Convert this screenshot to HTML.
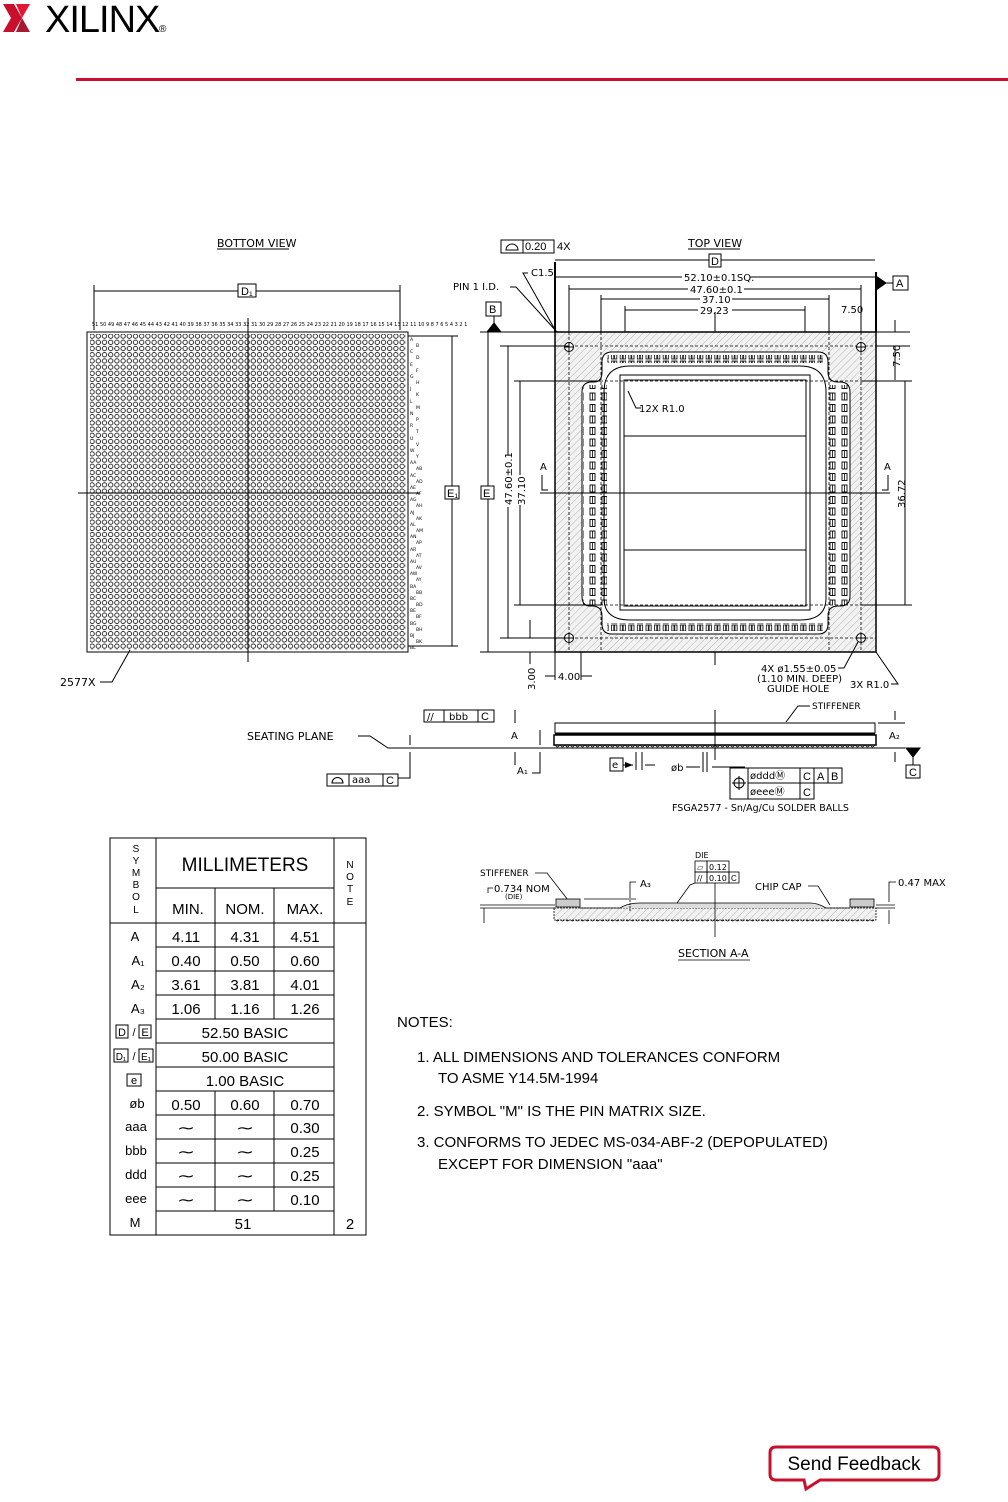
<!DOCTYPE html>
<html><head><meta charset="utf-8"><style>
html,body{margin:0;padding:0;background:#fff}
svg{display:block}
text{font-family:"Liberation Sans",sans-serif;fill:#000}
.s{font-family:"DejaVu Sans","Liberation Sans",sans-serif}
</style></head><body>
<svg width="1008" height="1502" viewBox="0 0 1008 1502" xmlns="http://www.w3.org/2000/svg">
<defs>
<pattern id="balls" x="89" y="333" width="6.2" height="6.2" patternUnits="userSpaceOnUse">
<circle cx="3.1" cy="3.1" r="2.2" fill="none" stroke="#000" stroke-width="0.8"/>
</pattern>
<pattern id="hatch" width="5" height="5" patternUnits="userSpaceOnUse" patternTransform="rotate(45)">
<rect width="5" height="5" fill="#f2f2f2"/><line x1="0" y1="0" x2="0" y2="5" stroke="#999" stroke-width="0.7"/>
</pattern>
<pattern id="pads" width="8.6" height="8" patternUnits="userSpaceOnUse">
<rect x="1" y="1" width="2.2" height="6" fill="none" stroke="#000" stroke-width="0.8"/><rect x="4" y="1" width="2.2" height="6" fill="none" stroke="#000" stroke-width="0.8"/>
</pattern>
<pattern id="padsv" width="12" height="11.5" patternUnits="userSpaceOnUse">
<rect x="2" y="2" width="5" height="7" fill="none" stroke="#000" stroke-width="0.9"/><line x1="4.5" y1="2" x2="4.5" y2="9" stroke="#000" stroke-width="0.8"/>
</pattern>
<pattern id="sball" width="5" height="6" patternUnits="userSpaceOnUse">
<path d="M0.5 0 A2 3 0 0 0 4.5 0" fill="none" stroke="#000" stroke-width="0.7"/>
</pattern>
<marker id="ar" markerWidth="8" markerHeight="6" refX="8" refY="3" orient="auto"><path d="M0 0 L8 3 L0 6" fill="#000"/></marker>
</defs>

<!-- Logo -->
<path d="M3 4 L14 4 L22 18 L14 32 L3 32 L11 18 Z" fill="#c8102e"/>
<path d="M16 4 L30 4 L22 18 Z" fill="#e31837"/>
<path d="M16 32 L30 32 L22 18 Z" fill="#a6192e"/>
<text x="45" y="32" font-size="38" letter-spacing="-1">XILINX</text>
<text x="159" y="32" font-size="10">®</text>
<rect x="76" y="78" width="932" height="3" fill="#c8102e"/>

<!-- BOTTOM VIEW -->
<g stroke="#000" fill="none" stroke-width="1">
<text x="217" y="247" font-size="11" stroke="none" class="s">BOTTOM VIEW</text>
<line x1="217" y1="249" x2="289" y2="249"/>
<line x1="94" y1="291" x2="400" y2="291"/>
<line x1="94" y1="285" x2="94" y2="330"/><line x1="400" y1="285" x2="400" y2="330"/>
<rect x="238" y="284" width="18" height="13" fill="#fff"/>
<text x="241" y="295" font-size="11" stroke="none">D₁</text>
<rect x="87" y="332" width="321" height="320"/>
<rect x="90" y="334" width="316" height="316" fill="url(#balls)" stroke="none"/>
<line x1="78" y1="493" x2="420" y2="493"/>
<line x1="248" y1="318" x2="248" y2="662"/>
<line x1="452" y1="336" x2="452" y2="646"/>
<line x1="408" y1="336" x2="458" y2="336"/><line x1="408" y1="646" x2="458" y2="646"/>
<rect x="445" y="486" width="14" height="13" fill="#fff"/>
<text x="447" y="497" font-size="11" stroke="none">E₁</text>
<text x="60" y="686" font-size="11" stroke="none" class="s">2577X</text>
<path d="M100 682 L112 682 L130 650"/>
</g>
<text x="92" y="326" font-size="5" class="s">51 50 49 48 47 46 45 44 43 42 41 40 39 38 37 36 35 34 33 32 31 30 29 28 27 26 25 24 23 22 21 20 19 18 17 16 15 14 13 12 11 10 9 8 7 6 5 4 3 2 1</text>
<text font-size="4.5" class="s">
<tspan x="410" y="341">A</tspan><tspan x="416" y="347">B</tspan><tspan x="410" y="353">C</tspan><tspan x="416" y="359">D</tspan><tspan x="410" y="366">E</tspan><tspan x="416" y="372">F</tspan><tspan x="410" y="378">G</tspan><tspan x="416" y="384">H</tspan><tspan x="410" y="390">J</tspan><tspan x="416" y="396">K</tspan><tspan x="410" y="403">L</tspan><tspan x="416" y="409">M</tspan><tspan x="410" y="415">N</tspan><tspan x="416" y="421">P</tspan><tspan x="410" y="427">R</tspan><tspan x="416" y="433">T</tspan><tspan x="410" y="440">U</tspan><tspan x="416" y="446">V</tspan><tspan x="410" y="452">W</tspan><tspan x="416" y="458">Y</tspan><tspan x="410" y="464">AA</tspan><tspan x="416" y="470">AB</tspan><tspan x="410" y="477">AC</tspan><tspan x="416" y="483">AD</tspan><tspan x="410" y="489">AE</tspan><tspan x="416" y="495">AF</tspan><tspan x="410" y="501">AG</tspan><tspan x="416" y="507">AH</tspan><tspan x="410" y="514">AJ</tspan><tspan x="416" y="520">AK</tspan><tspan x="410" y="526">AL</tspan><tspan x="416" y="532">AM</tspan><tspan x="410" y="538">AN</tspan><tspan x="416" y="544">AP</tspan><tspan x="410" y="551">AR</tspan><tspan x="416" y="557">AT</tspan><tspan x="410" y="563">AU</tspan><tspan x="416" y="569">AV</tspan><tspan x="410" y="575">AW</tspan><tspan x="416" y="581">AY</tspan><tspan x="410" y="588">BA</tspan><tspan x="416" y="594">BB</tspan><tspan x="410" y="600">BC</tspan><tspan x="416" y="606">BD</tspan><tspan x="410" y="612">BE</tspan><tspan x="416" y="618">BF</tspan><tspan x="410" y="625">BG</tspan><tspan x="416" y="631">BH</tspan><tspan x="410" y="637">BJ</tspan><tspan x="416" y="643">BK</tspan><tspan x="410" y="649">BL</tspan>
</text>

<!-- TOP VIEW -->
<g stroke="#000" fill="none" stroke-width="1">
<text x="688" y="247" font-size="11" stroke="none" class="s">TOP VIEW</text>
<line x1="688" y1="249" x2="740" y2="249"/>
<rect x="501" y="240" width="22" height="13"/><rect x="523" y="240" width="31" height="13"/>
<path d="M506 250 A5 5 0 0 1 518 250 Z"/>
<text x="525" y="250" font-size="11" stroke="none">0.20</text>
<text x="557" y="250" font-size="11" stroke="none">4X</text>
<line x1="555" y1="260" x2="875" y2="260"/>
<rect x="709" y="254" width="12" height="13" fill="#fff"/><text x="711" y="265" font-size="11" stroke="none">D</text>
<line x1="555" y1="277" x2="876" y2="277"/>
<line x1="569" y1="289" x2="861" y2="289"/>
<line x1="601" y1="299" x2="829" y2="299"/>
<line x1="625" y1="310" x2="805" y2="310"/>
<g fill="#fff" stroke="none">
<rect x="682" y="271" width="68" height="11"/><rect x="688" y="283" width="56" height="11"/>
<rect x="700" y="294" width="32" height="10"/><rect x="698" y="305" width="34" height="10"/>
</g>
<text x="684" y="281" font-size="10" stroke="none" class="s">52.10±0.1SQ.</text>
<text x="690" y="293" font-size="10" stroke="none" class="s">47.60±0.1</text>
<text x="702" y="303" font-size="10" stroke="none" class="s">37.10</text>
<text x="700" y="314" font-size="10" stroke="none" class="s">29.23</text>
<line x1="569" y1="285" x2="569" y2="340"/><line x1="861" y1="285" x2="861" y2="340"/>
<line x1="601" y1="295" x2="601" y2="360"/><line x1="829" y1="295" x2="829" y2="360"/>
<line x1="625" y1="306" x2="625" y2="380"/><line x1="805" y1="306" x2="805" y2="380"/>
<line x1="715" y1="312" x2="715" y2="665"/>
<text x="841" y="313" font-size="10" stroke="none" class="s">7.50</text>
<line x1="555" y1="262" x2="555" y2="332" stroke-width="2"/>
<line x1="876" y1="272" x2="876" y2="332" stroke-width="2"/>
<path d="M876 276 L886 283 L876 290 Z" fill="#000"/>
<line x1="886" y1="283" x2="893" y2="283"/>
<rect x="893" y="276" width="15" height="14"/><text x="896" y="287" font-size="11" stroke="none">A</text>
<text x="453" y="290" font-size="10" stroke="none" class="s">PIN 1 I.D.</text>
<path d="M510 287 L516 287 L557 332"/>
<text x="531" y="276" font-size="10" stroke="none" class="s">C1.5</text>
<path d="M528 273 L523 273 L558 335"/>
<rect x="486" y="302" width="15" height="14"/><text x="489" y="313" font-size="11" stroke="none">B</text>
<path d="M494 323 L487 332 L501 332 Z" fill="#000"/>
<line x1="494" y1="316" x2="494" y2="323"/>
<line x1="480" y1="332" x2="555" y2="332"/>
<line x1="480" y1="652" x2="555" y2="652"/>
<rect x="555" y="332" width="321" height="320" fill="url(#hatch)" stroke-width="1.5"/>
<path d="M612 352 L818 352 Q828 352 828 362 L828 372 Q828 382 838 382 L840 382 Q850 382 850 392 L850 596 Q850 606 840 606 L838 606 Q828 606 828 616 L828 624 Q828 634 818 634 L612 634 Q602 634 602 624 L602 616 Q602 606 592 606 L590 606 Q582 606 582 596 L582 392 Q582 382 592 382 L594 382 Q602 382 602 372 L602 362 Q602 352 612 352 Z" fill="#fff"/>
<rect x="607" y="355" width="216" height="8" fill="url(#pads)" stroke="none"/>
<rect x="607" y="623" width="216" height="8" fill="url(#pads)" stroke="none"/>
<rect x="583" y="385" width="24" height="220" fill="url(#padsv)" stroke="none"/>
<rect x="826" y="385" width="24" height="220" fill="url(#padsv)" stroke="none"/>
<path d="M630 366 L800 366 Q826 366 826 392 L826 598 Q826 620 800 620 L630 620 Q604 620 604 598 L604 392 Q604 366 630 366 Z"/>
<rect x="620" y="375" width="190" height="235"/>
<rect x="624" y="380" width="182" height="226"/>
<line x1="624" y1="436" x2="806" y2="436"/><line x1="624" y1="550" x2="806" y2="550"/>
<line x1="540" y1="493" x2="890" y2="493"/>
<g stroke-dasharray="3,2" stroke-width="0.8">
<line x1="555" y1="346" x2="876" y2="346"/><line x1="555" y1="638" x2="876" y2="638"/>
<line x1="569" y1="332" x2="569" y2="652"/><line x1="861" y1="332" x2="861" y2="652"/>
<line x1="601" y1="332" x2="601" y2="652"/><line x1="829" y1="332" x2="829" y2="652"/>
<line x1="555" y1="381" x2="876" y2="381"/><line x1="555" y1="605" x2="876" y2="605"/>
</g>
<g fill="#fff"><circle cx="569" cy="347" r="4.5"/><circle cx="861" cy="347" r="4.5"/><circle cx="569" cy="638" r="4.5"/><circle cx="861" cy="638" r="4.5"/></g>
<path d="M565 347h8M569 343v8M857 347h8M861 343v8M565 638h8M569 634v8M857 638h8M861 634v8"/>
<path d="M628 391 L636 408 L641 408"/>
<text x="639" y="412" font-size="10" stroke="none" class="s">12X R1.0</text>
<line x1="488" y1="332" x2="488" y2="652"/>
<rect x="481" y="486" width="13" height="13" fill="#fff"/><text x="483" y="497" font-size="11" stroke="none">E</text>
<line x1="508" y1="346" x2="508" y2="638"/><line x1="500" y1="346" x2="569" y2="346"/><line x1="500" y1="638" x2="569" y2="638"/>
<line x1="520" y1="381" x2="520" y2="605"/><line x1="514" y1="381" x2="601" y2="381"/><line x1="514" y1="605" x2="601" y2="605"/>
<g fill="#fff" stroke="none"><rect x="502" y="455" width="12" height="52"/><rect x="515" y="475" width="11" height="30"/><rect x="899" y="477" width="11" height="32"/></g>
<text x="512" y="505" font-size="10" stroke="none" class="s" transform="rotate(-90 512 505)">47.60±0.1</text>
<text x="525" y="505" font-size="10" stroke="none" class="s" transform="rotate(-90 525 505)">37.10</text>
<path d="M542 475 L542 490 L548 490"/><text x="540" y="470" font-size="10" stroke="none" class="s">A</text>
<path d="M888 475 L888 490 L882 490"/><text x="884" y="470" font-size="10" stroke="none" class="s">A</text>
<line x1="530" y1="620" x2="530" y2="638"/><line x1="530" y1="652" x2="530" y2="664"/>
<text x="535" y="690" font-size="10" stroke="none" class="s" transform="rotate(-90 535 690)">3.00</text>
<line x1="555" y1="652" x2="555" y2="680"/><line x1="581" y1="652" x2="581" y2="680"/>
<line x1="545" y1="676" x2="555" y2="676"/><line x1="581" y1="676" x2="592" y2="676"/>
<text x="558" y="680" font-size="10" stroke="none" class="s">4.00</text>
<line x1="876" y1="332" x2="910" y2="332"/><line x1="876" y1="346" x2="910" y2="346"/>
<line x1="895" y1="320" x2="895" y2="332"/><line x1="895" y1="346" x2="895" y2="380"/>
<text x="900" y="367" font-size="10" stroke="none" class="s" transform="rotate(-90 900 367)">7.50</text>
<line x1="905" y1="381" x2="905" y2="605"/><line x1="861" y1="381" x2="912" y2="381"/><line x1="861" y1="605" x2="912" y2="605"/>
<text x="905" y="508" font-size="10" stroke="none" class="s" transform="rotate(-90 905 508)">36.72</text>
<text x="761" y="672" font-size="10" stroke="none" class="s">4X ø1.55±0.05</text>
<text x="757" y="682" font-size="10" stroke="none" class="s">(1.10 MIN. DEEP)</text>
<text x="767" y="692" font-size="10" stroke="none" class="s">GUIDE HOLE</text>
<path d="M838 668 L844 668 L858 642"/>
<text x="850" y="688" font-size="10" stroke="none" class="s">3X R1.0</text>
<path d="M891 684 L898 684 L876 652"/>
</g>

<!-- SIDE VIEW -->
<g stroke="#000" fill="none" stroke-width="1">
<text x="247" y="740" font-size="11" stroke="none" class="s">SEATING PLANE</text>
<path d="M358 736 L370 736 L388 748 L880 748"/>
<line x1="410" y1="748" x2="540" y2="748" stroke-dasharray="6,3"/>
<rect x="424" y="710" width="20" height="12"/><rect x="444" y="710" width="34" height="12"/><rect x="478" y="710" width="16" height="12"/>
<text x="427" y="720" font-size="10" stroke="none" class="s">//</text><text x="449" y="720" font-size="10" stroke="none" class="s">bbb</text><text x="481" y="720" font-size="11" stroke="none">C</text>
<line x1="515" y1="710" x2="515" y2="723"/><line x1="515" y1="752" x2="515" y2="765"/>
<text x="511" y="739" font-size="10" stroke="none" class="s">A</text>
<line x1="540" y1="730" x2="540" y2="745"/>
<path d="M540 752 L540 773 L532 773"/>
<text x="517" y="774" font-size="10" stroke="none" class="s">A₁</text>
<rect x="555" y="723" width="320" height="10"/>
<rect x="554" y="735" width="322" height="10" stroke-width="1.5"/>
<line x1="555" y1="734" x2="875" y2="734" stroke-width="2"/>
<rect x="555" y="745" width="320" height="5" fill="url(#sball)" stroke="none"/>
<line x1="715" y1="710" x2="715" y2="760"/>
<path d="M786 722 L798 706 L810 706"/><text x="812" y="709" font-size="9" stroke="none" class="s">STIFFENER</text>
<line x1="878" y1="723" x2="905" y2="723"/><line x1="878" y1="748" x2="905" y2="748"/>
<line x1="895" y1="711" x2="895" y2="720"/><line x1="895" y1="752" x2="895" y2="762"/>
<text x="889" y="739" font-size="10" stroke="none" class="s">A₂</text>
<path d="M906 748 L920 748 L913 757 Z" fill="#000"/><line x1="913" y1="757" x2="913" y2="765"/>
<rect x="906" y="765" width="14" height="13"/><text x="909" y="776" font-size="11" stroke="none">C</text>
<rect x="610" y="758" width="13" height="13"/><text x="612" y="768" font-size="10" stroke="none" class="s">e</text>
<line x1="623" y1="765" x2="633" y2="765" marker-end="url(#ar)"/><line x1="645" y1="765" x2="655" y2="765"/>
<line x1="636" y1="752" x2="636" y2="770"/><line x1="642" y1="752" x2="642" y2="770"/>
<text x="671" y="771" font-size="10" stroke="none" class="s">øb</text>
<line x1="686" y1="767" x2="700" y2="767"/><line x1="712" y1="767" x2="745" y2="767"/>
<line x1="703" y1="752" x2="703" y2="772"/><line x1="707" y1="752" x2="707" y2="772"/>
<rect x="730" y="768" width="18" height="31"/><rect x="748" y="768" width="52" height="15"/><rect x="800" y="768" width="14" height="15"/><rect x="814" y="768" width="14" height="15"/><rect x="828" y="768" width="14" height="15"/>
<rect x="748" y="783" width="52" height="16"/><rect x="800" y="783" width="14" height="16"/>
<circle cx="739" cy="783" r="5"/><path d="M732 783h14M739 776v14"/>
<text x="750" y="779" font-size="10" stroke="none" class="s">ødddⓂ</text><text x="803" y="780" font-size="11" stroke="none">C</text><text x="817" y="780" font-size="11" stroke="none">A</text><text x="831" y="780" font-size="11" stroke="none">B</text>
<text x="750" y="795" font-size="10" stroke="none" class="s">øeeeⓂ</text><text x="803" y="796" font-size="11" stroke="none">C</text>
<text x="672" y="811" font-size="9.5" stroke="none" class="s">FSGA2577 - Sn/Ag/Cu SOLDER BALLS</text>
<rect x="327" y="774" width="22" height="12"/><rect x="349" y="774" width="34" height="12"/><rect x="383" y="774" width="15" height="12"/>
<path d="M332 783 A5 5 0 0 1 343 783 Z"/>
<text x="352" y="783" font-size="10" stroke="none" class="s">aaa</text><text x="386" y="784" font-size="11" stroke="none">C</text>
<path d="M398 778 L410 778 L410 752"/>
<line x1="410" y1="735" x2="410" y2="745"/>
</g>

<!-- SECTION A-A -->
<g stroke="#000" fill="none" stroke-width="0.8">
<text x="480" y="876" font-size="9" stroke="none" class="s">STIFFENER</text>
<path d="M535 873 L547 873 L568 900"/>
<path d="M488 893 L488 888 L493 888"/><text x="494" y="892" font-size="10" stroke="none" class="s">0.734 NOM</text>
<text x="505" y="899" font-size="7" stroke="none" class="s">(DIE)</text>
<line x1="480" y1="905" x2="555" y2="905"/><line x1="480" y1="908" x2="555" y2="908"/>
<line x1="484" y1="908" x2="484" y2="923"/>
<rect x="556" y="899" width="24" height="8" fill="#ccc"/>
<rect x="850" y="899" width="24" height="8" fill="#ccc"/>
<rect x="554" y="908" width="322" height="12" fill="url(#hatch)" stroke-dasharray="2,1"/>
<path d="M580 908 L620 908 Q628 903 640 903 L810 903 Q818 903 826 908 L850 908" fill="#ddd"/>
<rect x="555" y="920" width="320" height="4" fill="url(#sball)" stroke="none"/>
<line x1="584" y1="899" x2="636" y2="899"/>
<path d="M630 898 L630 882 L636 882"/><text x="640" y="887" font-size="10" stroke="none" class="s">A₃</text>
<line x1="630" y1="900" x2="630" y2="912" stroke-dasharray="2,1"/>
<text x="695" y="858" font-size="8" stroke="none" class="s">DIE</text>
<rect x="695" y="861" width="12" height="11"/><rect x="707" y="861" width="22" height="11"/>
<rect x="695" y="872" width="12" height="11"/><rect x="707" y="872" width="22" height="11"/><rect x="729" y="872" width="10" height="11"/>
<text x="697" y="870" font-size="8" stroke="none">▱</text><text x="709" y="870" font-size="8" stroke="none" class="s">0.12</text>
<text x="697" y="881" font-size="8" stroke="none" class="s">//</text><text x="709" y="881" font-size="8" stroke="none" class="s">0.10</text><text x="731" y="881" font-size="8" stroke="none">C</text>
<path d="M695 883 L690 885 L677 903"/>
<line x1="715" y1="883" x2="715" y2="937"/>
<text x="755" y="890" font-size="10" stroke="none" class="s">CHIP CAP</text>
<path d="M808 886 L818 886 L830 905"/>
<path d="M889 902 L889 882 L896 882"/><text x="898" y="886" font-size="10" stroke="none" class="s">0.47 MAX</text>
<line x1="876" y1="905" x2="895" y2="905"/><line x1="876" y1="908" x2="895" y2="908"/>
<line x1="889" y1="910" x2="889" y2="924"/>
<text x="678" y="957" font-size="11" stroke="none" class="s">SECTION A-A</text>
<line x1="678" y1="960" x2="750" y2="960"/>
</g>

<!-- TABLE -->
<g stroke="#000" fill="none" stroke-width="1">
<rect x="110" y="838" width="256" height="397"/>
<line x1="156" y1="838" x2="156" y2="1235"/>
<line x1="334" y1="838" x2="334" y2="1235"/>
<line x1="156" y1="888" x2="334" y2="888"/>
<line x1="110" y1="923" x2="366" y2="923"/>
<path d="M215 888V1019M274 888V1019M215 1091V1211M274 1091V1211"/>
<path d="M156 947H334M156 971H334M156 995H334M156 1019H334M156 1043H334M156 1067H334M156 1091H334M156 1115H334M156 1139H334M156 1163H334M156 1187H334M156 1211H334"/>
<rect x="116" y="1025" width="12" height="13"/><rect x="139" y="1025" width="12" height="13"/>
<rect x="114" y="1049" width="14" height="13"/><rect x="139" y="1049" width="14" height="13"/>
<rect x="127" y="1074" width="14" height="12"/>
</g>
<g font-size="10" class="s" text-anchor="middle">
<text x="136" y="852">S</text><text x="136" y="864">Y</text><text x="136" y="876">M</text><text x="136" y="888">B</text><text x="136" y="900">O</text><text x="136" y="913">L</text>
<text x="350" y="868">N</text><text x="350" y="880">O</text><text x="350" y="892">T</text><text x="350" y="905">E</text>
</g>
<g font-size="15" text-anchor="middle" fill="#333">
<text x="245" y="871" font-size="19">MILLIMETERS</text>
<text x="188" y="914">MIN.</text><text x="245" y="914">NOM.</text><text x="305" y="914">MAX.</text>
<text x="135" y="941" font-size="13">A</text><text x="186" y="942">4.11</text><text x="245" y="942">4.31</text><text x="305" y="942">4.51</text>
<text x="138" y="965" font-size="13">A₁</text><text x="186" y="966">0.40</text><text x="245" y="966">0.50</text><text x="305" y="966">0.60</text>
<text x="138" y="989" font-size="13">A₂</text><text x="186" y="990">3.61</text><text x="245" y="990">3.81</text><text x="305" y="990">4.01</text>
<text x="138" y="1013" font-size="13">A₃</text><text x="186" y="1014">1.06</text><text x="245" y="1014">1.16</text><text x="305" y="1014">1.26</text>
<text x="122" y="1036" font-size="11">D</text><text x="134" y="1036" font-size="11">/</text><text x="145" y="1036" font-size="11">E</text>
<text x="245" y="1038">52.50  BASIC</text>
<text x="121" y="1060" font-size="10">D₁</text><text x="134" y="1060" font-size="11">/</text><text x="146" y="1060" font-size="10">E₁</text>
<text x="245" y="1062">50.00  BASIC</text>
<text x="134" y="1084" font-size="11">e</text><text x="245" y="1086">1.00  BASIC</text>
<text x="137" y="1108" font-size="13">øb</text><text x="186" y="1110">0.50</text><text x="245" y="1110">0.60</text><text x="305" y="1110">0.70</text>
<text x="136" y="1131" font-size="13">aaa</text><text x="186" y="1133">⁓</text><text x="245" y="1133">⁓</text><text x="305" y="1133">0.30</text>
<text x="136" y="1155" font-size="13">bbb</text><text x="186" y="1157">⁓</text><text x="245" y="1157">⁓</text><text x="305" y="1157">0.25</text>
<text x="136" y="1179" font-size="13">ddd</text><text x="186" y="1181">⁓</text><text x="245" y="1181">⁓</text><text x="305" y="1181">0.25</text>
<text x="136" y="1203" font-size="13">eee</text><text x="186" y="1205">⁓</text><text x="245" y="1205">⁓</text><text x="305" y="1205">0.10</text>
<text x="135" y="1227" font-size="13">M</text><text x="243" y="1229">51</text><text x="350" y="1229">2</text>
</g>

<!-- NOTES -->
<g font-size="15" fill="#333">
<text x="397" y="1027">NOTES:</text>
<text x="417" y="1062">1.  ALL  DIMENSIONS  AND  TOLERANCES  CONFORM</text>
<text x="438" y="1083">TO  ASME  Y14.5M-1994</text>
<text x="417" y="1116">2.  SYMBOL  "M"  IS  THE  PIN  MATRIX  SIZE.</text>
<text x="417" y="1147">3.  CONFORMS  TO  JEDEC  MS-034-ABF-2  (DEPOPULATED)</text>
<text x="438" y="1169">EXCEPT  FOR  DIMENSION  "aaa"</text>
</g>

<!-- Send Feedback -->
<path d="M776 1447 H933 Q939 1447 939 1453 V1474 Q939 1480 933 1480 H820 L806 1489 L804 1480 H776 Q770 1480 770 1474 V1453 Q770 1447 776 1447 Z" fill="#fff" stroke="#c8102e" stroke-width="3"/>
<text x="854" y="1470" font-size="19" text-anchor="middle" fill="#222">Send Feedback</text>
</svg>
</body></html>
